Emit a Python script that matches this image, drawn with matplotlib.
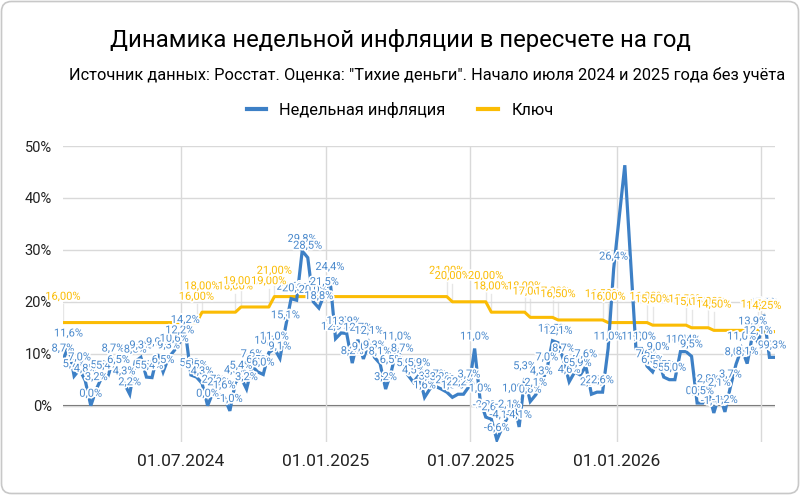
import numpy as np
import matplotlib.pyplot as plt
import matplotlib.patheffects as pe
from matplotlib.lines import Line2D
from matplotlib.patches import FancyBboxPatch
from matplotlib.transforms import IdentityTransform

plt.rcParams['font.family'] = ['Roboto', 'DejaVu Sans']

# weekly inflation, annualised, %
infl = [8.7, 11.6, 5.7, 7.0, 4.8, 0.0, 3.2, 5.5, 5.4, 8.7,
        6.5, 4.3, 2.2, 8.5, 9.3, 5.5, 5.4, 9.9, 6.5, 9.3,
        10.6, 12.2, 14.2, 5.9, 5.5, 4.3, 0.0, 2.7, 2.2, 1.6,
        -1.0, 4.5, 5.4, 3.2, 7.6, 6.5, 6.0, 10.2, 11.0, 9.1,
        15.1, 20.6, 20.3, 29.8, 28.5, 20.0, 18.8, 21.5, 24.4, 12.9,
        14.0, 13.9, 8.2, 12.7, 9.0, 12.1, 9.3, 8.1, 3.2, 6.5,
        11.0, 8.7, 5.9, 4.5, 5.9, 1.6, 3.3, 3.7, 3.2, 2.6,
        1.6, 2.2, 2.2, 3.7, 11.0, 1.0, -2.2, -2.6, -6.6, -4.1,
        -2.1, 1.0, -4.1, 5.3, 0.8, 2.1, 4.3, 7.0, 12.5, 12.1,
        8.7, 4.6, 6.5, 5.9, 7.6, 2.2, 2.6, 2.6, 11.0, 26.4,
        36.3, 46.3, 28.5, 11.0, 11.0, 7.6, 6.5, 9.0, 5.5, 5.0,
        5.0, 10.4, 10.4, 9.5, 0.5, 0.5, 2.8, -1.4, 2.1, -1.2,
        3.7, 8.0, 11.0, 8.1, 13.9, 12.1, 17.5, 9.3, 9.3]

# key rate, % : (value, number of weeks)
key_steps = [(16.0, 25), (18.0, 7), (19.0, 6), (21.0, 32), (20.0, 7),
             (18.0, 7), (17.0, 5), (16.5, 9), (16.0, 8), (15.5, 7),
             (15.0, 4), (14.5, 9), (14.25, 3)]
key = []
for v, n in key_steps:
    key += [v] * n

no_label = [100, 101, 102]

tick_pos = [21.2, 47.3, 73.2, 99.6, 125.4]
tick_lab = ['01.07.2024', '01.01.2025', '01.07.2025', '01.01.2026', '']

blue = '#3d80c6'
blue_txt = '#4a89cc'
orange = '#fbbc04'

x = np.arange(len(infl))

fig = plt.figure(figsize=(8, 4.95), dpi=100)
ax = fig.add_axes([63 / 800, 53 / 495, 712 / 800, 296 / 495])

ax.plot(x, infl, color=blue, lw=2.3, zorder=3, solid_joinstyle='miter')
ax.plot(x, key, color=orange, lw=2.2, zorder=2)

halo = [pe.withStroke(linewidth=2.5, foreground='white')]
for i, v in enumerate(infl):
    if i in no_label:
        continue
    ax.annotate(f'{v:.1f}'.replace('.', ',') + '%', (x[i], v), xytext=(0, 5),
                textcoords='offset points', ha='center', va='bottom',
                fontsize=8, color=blue_txt, path_effects=halo, zorder=4)

for i, v in enumerate(key):
    if i == 0 or key[i - 1] != v or (i < len(key) - 1 and key[i + 1] != v):
        ax.plot([x[i], x[i]], [v, v + 3.5], color='#e6e6e6', lw=1, zorder=1)
        ax.annotate(f'{v:.2f}'.replace('.', ',') + '%', (x[i], v), xytext=(0, 15),
                    textcoords='offset points', ha='center', va='bottom',
                    fontsize=8, color=orange, path_effects=halo, zorder=4)

ax.set_xlim(0, len(infl) - 1)
ax.set_ylim(-7, 50)
ax.set_yticks([0, 10, 20, 30, 40, 50])
ax.set_yticklabels([f'{t}%' for t in range(0, 60, 10)])
ax.set_xticks(tick_pos)
ax.set_xticklabels(tick_lab)
ax.tick_params(length=0, colors='#222222')
ax.tick_params(axis='y', pad=8, labelsize=10.5)
ax.tick_params(axis='x', pad=9, labelsize=12.5)
ax.grid(True, color='#d9d9d9', lw=1)
ax.axhline(0, color='#666666', lw=1.5, zorder=1)
for s in ax.spines.values():
    s.set_visible(False)

fig.text(0.5, 1 - 40 / 495, 'Динамика недельной инфляции в пересчете на год',
         ha='center', va='center', fontsize=17.2, color='#000000')
fig.text(0.982, 1 - 75 / 495,
         'Источник данных: Росстат. Оценка: "Тихие деньги". Начало июля 2024 и 2025 года без учёта',
         ha='right', va='center', fontsize=11.8, color='#000000')

handles = [Line2D([], [], color=blue, lw=3), Line2D([], [], color=orange, lw=3)]
fig.legend(handles, ['Недельная инфляция', 'Ключ'], loc='center',
           bbox_to_anchor=(0.5, 1 - 110 / 495), ncol=2, frameon=False,
           fontsize=11.8, handlelength=1.2, columnspacing=2.0)

fig.patches.append(FancyBboxPatch((1.5, 1.5), 797, 492, boxstyle='round,pad=0,rounding_size=10',
                                  transform=IdentityTransform(), fill=False,
                                  edgecolor='#c8c8c8', lw=1.2))

fig.savefig('out.png', dpi=100)
